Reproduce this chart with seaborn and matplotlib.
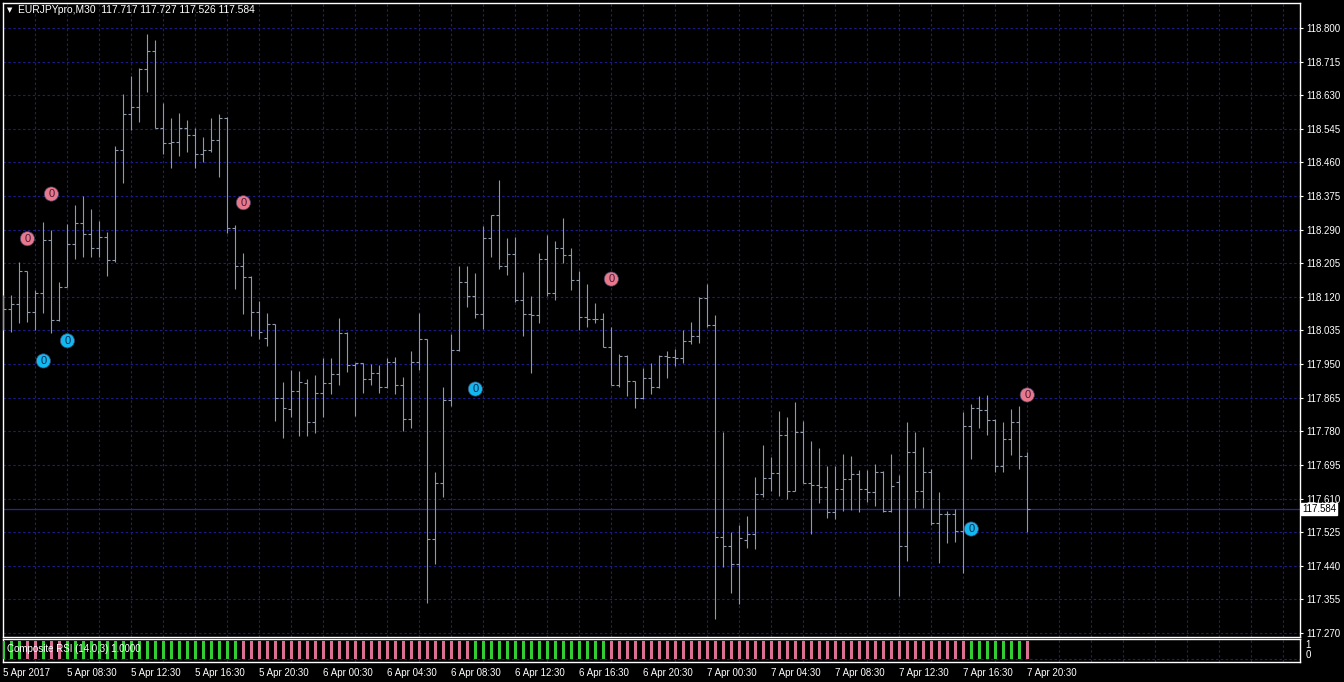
import numpy as np
import pandas as pd
import seaborn as sns
import matplotlib.pyplot as plt
from matplotlib import transforms

sns.set_theme(style='dark')
plt.rcParams['font.family'] = ['Liberation Sans', 'DejaVu Sans']

# EURJPYpro M30, 5 Apr 04:30 -> 7 Apr 20:30 (129 bars)
opens = [118.100, 118.089, 118.102, 118.186, 118.081, 118.129, 118.264, 118.062, 118.144, 118.253,
         118.306, 118.278, 118.243, 118.272, 118.212, 118.492, 118.582, 118.601, 118.697, 118.742,
         118.548, 118.509, 118.511, 118.547, 118.530, 118.481, 118.492, 118.517, 118.572, 118.295,
         118.199, 118.170, 118.081, 118.015, 118.051, 117.865, 117.837, 117.882, 117.902, 117.803,
         117.878, 117.902, 117.924, 118.029, 117.948, 117.952, 117.912, 117.928, 117.892, 117.955,
         117.897, 117.811, 117.955, 118.013, 117.507, 117.650, 117.859, 117.986, 118.157, 118.121,
         118.076, 118.270, 118.326, 118.197, 118.228, 118.111, 118.077, 118.074, 118.216, 118.129,
         118.243, 118.226, 118.163, 118.070, 118.064, 118.064, 117.994, 117.897, 117.971, 117.907,
         117.865, 117.916, 117.891, 117.971, 117.969, 117.965, 118.009, 118.021, 118.118, 118.049,
         117.514, 117.491, 117.444, 117.505, 117.520, 117.621, 117.661, 117.674, 117.771, 117.630,
         117.778, 117.649, 117.644, 117.640, 117.575, 117.634, 117.659, 117.672, 117.634, 117.627,
         117.676, 117.579, 117.653, 117.490, 117.729, 117.630, 117.677, 117.548, 117.571, 117.571,
         117.528, 117.794, 117.838, 117.834, 117.809, 117.693, 117.761, 117.803, 117.717]
highs = [118.125, 118.125, 118.208, 118.186, 118.138, 118.310, 118.289, 118.158, 118.304, 118.353,
         118.374, 118.342, 118.313, 118.284, 118.502, 118.633, 118.679, 118.698, 118.785, 118.770,
         118.610, 118.573, 118.585, 118.568, 118.547, 118.525, 118.572, 118.583, 118.576, 118.302,
         118.232, 118.172, 118.110, 118.079, 118.051, 117.904, 117.934, 117.933, 117.913, 117.923,
         117.965, 117.965, 118.066, 118.030, 117.952, 117.952, 117.950, 117.948, 117.965, 117.969,
         117.917, 117.982, 118.079, 118.013, 117.678, 117.891, 118.026, 118.197, 118.198, 118.181,
         118.298, 118.327, 118.416, 118.270, 118.272, 118.184, 118.123, 118.232, 118.277, 118.262,
         118.319, 118.243, 118.186, 118.153, 118.104, 118.079, 118.045, 117.975, 117.973, 117.908,
         117.940, 117.952, 117.973, 117.982, 117.988, 118.035, 118.056, 118.119, 118.152, 118.074,
         117.779, 117.525, 117.543, 117.566, 117.665, 117.746, 117.716, 117.832, 117.817, 117.854,
         117.806, 117.756, 117.737, 117.693, 117.693, 117.723, 117.718, 117.682, 117.682, 117.697,
         117.680, 117.723, 117.670, 117.803, 117.778, 117.741, 117.685, 117.626, 117.579, 117.584,
         117.828, 117.849, 117.870, 117.872, 117.811, 117.803, 117.837, 117.844, 117.727]
lows = [118.036, 118.030, 118.054, 118.057, 118.036, 118.079, 118.028, 118.059, 118.144, 118.215,
        118.222, 118.222, 118.222, 118.174, 118.209, 118.409, 118.542, 118.563, 118.637, 118.547,
        118.481, 118.445, 118.477, 118.487, 118.447, 118.461, 118.487, 118.422, 118.281, 118.139,
        118.076, 118.022, 118.014, 117.997, 117.807, 117.763, 117.815, 117.769, 117.768, 117.775,
        117.815, 117.874, 117.897, 117.931, 117.820, 117.878, 117.897, 117.876, 117.889, 117.874,
        117.781, 117.788, 117.935, 117.347, 117.444, 117.615, 117.844, 117.984, 118.095, 118.066,
        118.039, 118.222, 118.190, 118.176, 118.108, 118.022, 117.928, 118.055, 118.121, 118.112,
        118.205, 118.138, 118.035, 118.045, 118.055, 117.993, 117.897, 117.893, 117.870, 117.838,
        117.862, 117.874, 117.889, 117.914, 117.944, 117.952, 118.000, 118.003, 118.045, 117.306,
        117.438, 117.372, 117.344, 117.486, 117.483, 117.615, 117.630, 117.617, 117.609, 117.628,
        117.649, 117.520, 117.598, 117.560, 117.558, 117.579, 117.581, 117.577, 117.602, 117.592,
        117.575, 117.577, 117.364, 117.453, 117.587, 117.587, 117.542, 117.448, 117.497, 117.499,
        117.423, 117.710, 117.789, 117.771, 117.678, 117.678, 117.719, 117.684, 117.526]
closes = [118.089, 118.102, 118.186, 118.082, 118.129, 118.264, 118.062, 118.144, 118.253, 118.306,
          118.278, 118.243, 118.272, 118.212, 118.492, 118.582, 118.601, 118.697, 118.742, 118.548,
          118.509, 118.511, 118.547, 118.530, 118.481, 118.492, 118.517, 118.572, 118.295, 118.199,
          118.170, 118.081, 118.032, 118.051, 117.865, 117.840, 117.882, 117.904, 117.803, 117.878,
          117.902, 117.924, 118.029, 117.948, 117.952, 117.912, 117.928, 117.892, 117.955, 117.897,
          117.811, 117.955, 118.013, 117.507, 117.650, 117.859, 117.986, 118.157, 118.121, 118.076,
          118.270, 118.326, 118.197, 118.228, 118.111, 118.077, 118.074, 118.216, 118.129, 118.243,
          118.226, 118.163, 118.070, 118.064, 118.064, 117.994, 117.897, 117.971, 117.907, 117.865,
          117.916, 117.891, 117.971, 117.969, 117.965, 118.009, 118.021, 118.118, 118.049, 117.514,
          117.491, 117.444, 117.510, 117.520, 117.621, 117.661, 117.674, 117.771, 117.630, 117.778,
          117.649, 117.644, 117.640, 117.575, 117.634, 117.659, 117.672, 117.634, 117.627, 117.676,
          117.579, 117.642, 117.490, 117.729, 117.630, 117.677, 117.548, 117.571, 117.571, 117.528,
          117.794, 117.838, 117.834, 117.809, 117.693, 117.761, 117.803, 117.717, 117.584]

# Composite RSI histogram colour per bar: G = up (green), P = down (pink)
rsi_colour = ("GGG" "PP" "G" "PP"
              "GGGGGGGGGG" "GGGGGGGGGG" "GG"
              "PPPPPPPPPP" "PPPPPPPPPP" "PPPPPPPPP"
              "GGGGGGGGGG" "GGGGGGG"
              "PPPPPPPPPP" "PPPPPPPPPP" "PPPPPPPPPP" "PPPPPPPPPP" "PPPPP"
              "GGGGGGG"
              "P")

# signal circles ("0") : bar index, price, kind
sig_bar = [3, 6, 30, 76, 128, 5, 8, 59, 121]
sig_price = [118.267, 118.380, 118.358, 118.165, 117.872, 117.958, 118.009, 117.887, 117.533]
sig_kind = ['sell', 'sell', 'sell', 'sell', 'sell', 'buy', 'buy', 'buy', 'buy']

price_ticks = [118.800, 118.715, 118.630, 118.545, 118.460, 118.375, 118.290, 118.205, 118.120,
               118.035, 117.950, 117.865, 117.780, 117.695, 117.610, 117.525, 117.440, 117.355, 117.270]
time_pos = [0, 8, 16, 24, 32, 40, 48, 56, 64, 72, 80, 88, 96, 104, 112, 120, 128]
time_labels = ['5 Apr 2017', '5 Apr 08:30', '5 Apr 12:30', '5 Apr 16:30', '5 Apr 20:30',
               '6 Apr 00:30', '6 Apr 04:30', '6 Apr 08:30', '6 Apr 12:30', '6 Apr 16:30',
               '6 Apr 20:30', '7 Apr 00:30', '7 Apr 04:30', '7 Apr 08:30', '7 Apr 12:30',
               '7 Apr 16:30', '7 Apr 20:30']

df = pd.DataFrame({'bar': np.arange(len(opens)), 'open': opens, 'high': highs,
                   'low': lows, 'close': closes, 'rsi': list(rsi_colour)})
df['rsi_val'] = 1.0

W, H = 1344, 682
grid_c = '#1c1c88'
bar_c = '#8f99ab'
dash = (0, (2.2, 2.2))

fig = plt.figure(figsize=(W / 100, H / 100), dpi=100, facecolor='black')
ax = fig.add_axes([3 / W, 1 - 637 / H, 1297 / W, 634 / H], facecolor='black')
ax2 = fig.add_axes([3 / W, 1 - 662 / H, 1297 / W, 23 / H], facecolor='black')

xmin, xmax = -0.05, 162.1

# OHLC bars
tw = 0.375
ax.vlines(df['bar'], df['low'], df['high'], color=bar_c, lw=0.8, zorder=3)
ax.hlines(df['open'], df['bar'] - tw, df['bar'], color=bar_c, lw=0.8, zorder=3)
ax.hlines(df['close'], df['bar'], df['bar'] + tw, color=bar_c, lw=0.8, zorder=3)

# bid line
last = closes[-1]
ax.axhline(last, color='#2424a8', lw=0.9, zorder=2)

# signal markers
sig = pd.DataFrame({'bar': sig_bar, 'price': sig_price, 'kind': sig_kind})
sns.scatterplot(data=sig, x='bar', y='price', hue='kind',
                palette={'sell': '#e8788c', 'buy': '#12b8f0'},
                s=105, edgecolor='#404060', linewidth=0.5, legend=False, ax=ax, zorder=5)
for b, p, k in zip(sig_bar, sig_price, sig_kind):
    ax.text(b, p, '0', color='#4a1a3a' if k == 'sell' else '#0a2a50', fontsize=8,
            ha='center', va='center', zorder=6)

ax.set_xlim(xmin, xmax)
ax.set_ylim(117.260, 118.863)
ax.set_xlabel('')
ax.set_ylabel('')
ax.set_xticks(range(0, 161, 4))
ax.set_yticks(price_ticks)
ax.set_yticklabels(['%.3f' % v for v in price_ticks])
ax.yaxis.tick_right()
ax.tick_params(axis='x', length=0, labelbottom=False)
ax.tick_params(axis='y', colors='white', labelcolor='white', labelsize=7, length=2.5,
               width=0.8, pad=2, right=True, left=False)
ax.grid(True, color=grid_c, ls=dash, lw=0.8)
for s in ax.spines.values():
    s.set_color('white')
    s.set_linewidth(1)

# price label box
trans = transforms.blended_transform_factory(ax.transAxes, ax.transData)
ax.text(1.0015, last, '%.3f' % last, transform=trans, fontsize=7, color='black',
        va='center', ha='left',
        bbox=dict(boxstyle='square,pad=0.12', fc='white', ec='white'), zorder=7)

# header
fig.text(7 / W, 1 - 10 / H, '\u25bc', color='white', fontsize=5, va='center',
         family='DejaVu Sans')
fig.text(18 / W, 1 - 10 / H,
         'EURJPYpro,M30  %.3f %.3f %.3f %.3f' % (opens[-1], highs[-1], lows[-1], closes[-1]),
         color='white', fontsize=7.4, va='center')

# Composite RSI subwindow
sns.barplot(data=df, x='bar', y='rsi_val', hue='rsi', native_scale=True, dodge=False,
            palette={'G': '#32cd32', 'P': '#db7093'}, width=0.375, saturation=1,
            linewidth=0, legend=False, ax=ax2, zorder=3)
ax2.axhline(0, color=grid_c, ls=dash, lw=0.8, zorder=1)
ax2.set_xlim(xmin, xmax)
ax2.set_ylim(-0.167, 1.111)
ax2.set_xlabel('')
ax2.set_ylabel('')
ax2.set_yticks([])
ax2.set_xticks(time_pos)
ax2.set_xticklabels(time_labels)
ax2.set_xticks(range(0, 161, 4), minor=True)
ax2.tick_params(axis='x', which='major', colors='white', labelcolor='white', labelsize=7,
                length=3, width=0.8, pad=1)
ax2.tick_params(axis='x', which='minor', length=0)
for lbl in ax2.get_xticklabels():
    lbl.set_horizontalalignment('left')
ax2.grid(False)
ax2.grid(True, which='minor', axis='x', color=grid_c, ls=dash, lw=0.8)
for s in ax2.spines.values():
    s.set_color('white')
    s.set_linewidth(1)
ax2.text(4 / 1297, 0.55, 'Composite RSI (14.0,3) 1.0000', transform=ax2.transAxes,
         color='white', fontsize=7, va='center', ha='left', zorder=6)
ax2.text(1.004, 0.76, '1', transform=ax2.transAxes, color='white', fontsize=7,
         va='center', ha='left')
ax2.text(1.004, 0.30, '0', transform=ax2.transAxes, color='white', fontsize=7,
         va='center', ha='left')

fig.savefig('out.png', dpi=100, facecolor='black')
